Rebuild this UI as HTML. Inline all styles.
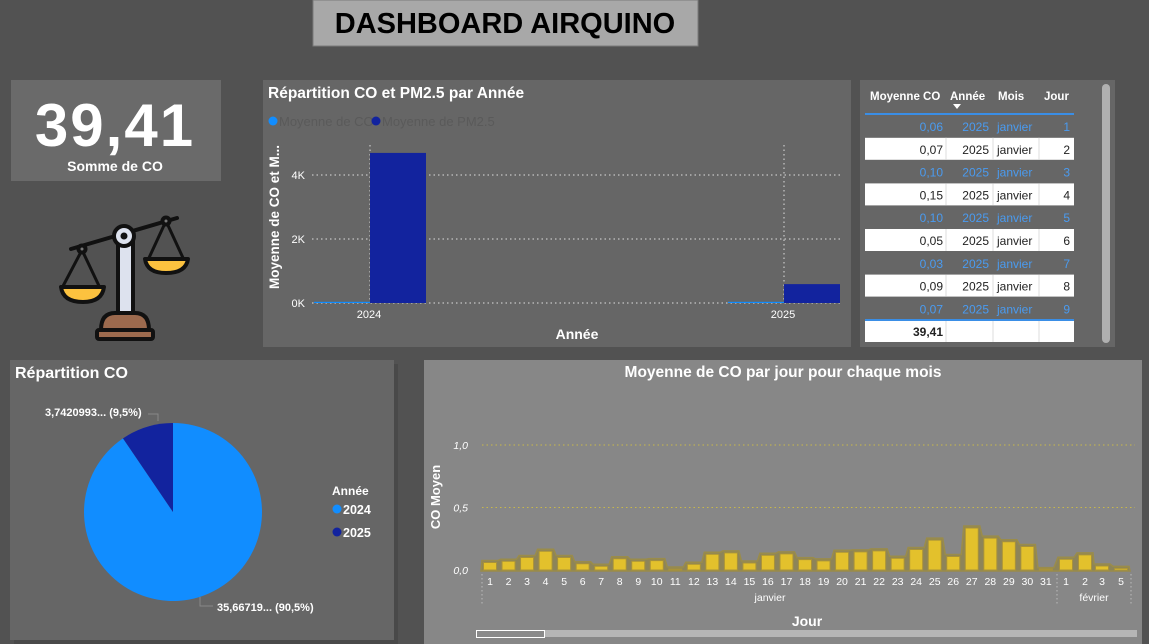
<!DOCTYPE html>
<html><head><meta charset="utf-8"><style>
html,body{margin:0;padding:0;background:#525252;}
svg{display:block;font-family:"Liberation Sans",sans-serif;}
</style></head><body>
<svg id="root" width="1149" height="644" viewBox="0 0 1149 644" xmlns="http://www.w3.org/2000/svg">
<rect x="0" y="0" width="1149" height="644" fill="#525252"/>
<g>
<rect x="313" y="0" width="385" height="46" fill="#a8a8a8" stroke="#7a7a7a"/>
<text x="505" y="33" text-anchor="middle" font-size="29" font-weight="bold" fill="#000">DASHBOARD AIRQUINO</text>
</g>
<g>
<rect x="11" y="80" width="210" height="101" fill="#6a6a6a"/>
<text x="115" y="146" text-anchor="middle" font-size="60" font-weight="bold" fill="#fff" letter-spacing="2">39,41</text>
<text x="115" y="171" text-anchor="middle" font-size="14" font-weight="bold" fill="#fff">Somme de CO</text>
</g>
<g stroke="#111" stroke-width="4" stroke-linejoin="round" stroke-linecap="round">
<line x1="71" y1="249" x2="177" y2="218"/>
<path d="M82 250 L62 288 M82 250 L100 288 M166 221 L148 260 M166 221 L184 260" fill="none" stroke-width="3"/>
<path d="M61 287 H104 Q102 302 83 302 Q63 302 61 287 Z" fill="#fcc23f"/>
<path d="M145 259 H188 Q186 273 166 273 Q147 273 145 259 Z" fill="#fcc23f"/>
<rect x="118" y="240" width="15" height="74" fill="#dde2ee"/>
<circle cx="124" cy="236" r="10" fill="#dde2ee"/>
<circle cx="124" cy="236" r="3" fill="#111" stroke-width="1"/>
<circle cx="82" cy="249" r="3.5" fill="#777"/>
<circle cx="166" cy="221" r="3.5" fill="#777"/>
<path d="M101 330 Q101 313 115 313 H135 Q149 313 149 330 Z" fill="#9c6a4e"/>
<rect x="97" y="330" width="56" height="9" rx="2" fill="#9c6a4e"/>
</g>

<g>
<rect x="263" y="80" width="588" height="267" fill="#666"/>
<text x="268" y="98" font-size="15.5" font-weight="bold" fill="#fff">Répartition CO et PM2.5 par Année</text>
<g>
<circle cx="273" cy="121" r="4.5" fill="#118dff"/><text x="279" y="126" font-size="13" fill="#5a5a5a">Moyenne de CO</text>
<circle cx="376" cy="121" r="4.5" fill="#12239e"/><text x="382" y="126" font-size="13" fill="#5a5a5a">Moyenne de PM2.5</text>
</g>
<g id="barG"></g>
<text transform="translate(279,217) rotate(-90)" text-anchor="middle" font-size="13.5" font-weight="bold" fill="#fff">Moyenne de CO et M...</text>
<text x="577" y="339" text-anchor="middle" font-size="14" font-weight="bold" fill="#fff">Année</text>
</g>

<g>
<rect x="860" y="80" width="255" height="267" fill="#666"/>
<g font-size="11.5" font-weight="bold" fill="#fff">
<text x="870" y="100">Moyenne CO</text>
<text x="950" y="100">Année</text>
<text x="998" y="100">Mois</text>
<text x="1044" y="100">Jour</text>
</g>
<path d="M953 104 L961 104 L957 109 Z" fill="#fff"/>
<line x1="865" y1="114" x2="1074" y2="114" stroke="#3a8ee6" stroke-width="2"/>
<g id="tableRows"></g>
<rect x="865" y="320" width="209" height="22" fill="#fff"/>
<line x1="865" y1="320" x2="1074" y2="320" stroke="#3a8ee6" stroke-width="2"/>
<g stroke="#ddd"><line x1="946" y1="321" x2="946" y2="342"/><line x1="993" y1="321" x2="993" y2="342"/><line x1="1039" y1="321" x2="1039" y2="342"/></g>
<text x="943" y="336" text-anchor="end" font-size="12" font-weight="bold" fill="#222">39,41</text>
<rect x="1102" y="84" width="8" height="259" rx="4" fill="#b0b0b0"/>
</g>

<g>
<rect x="14" y="364" width="384" height="280" fill="#404040" opacity="0.5"/>
<rect x="10" y="360" width="384" height="280" fill="#666"/>
<text x="15" y="378" font-size="16" font-weight="bold" fill="#fff">Répartition CO</text>
<g id="pieG"></g>
<text x="45" y="416" font-size="11" font-weight="bold" fill="#fff">3,7420993... (9,5%)</text>
<path d="M148 414 H158 V421" stroke="#888" fill="none"/>
<text x="217" y="611" font-size="11" font-weight="bold" fill="#fff">35,66719... (90,5%)</text>
<path d="M200 597 V606 H213" stroke="#888" fill="none"/>
<g>
<text x="332" y="495" font-size="12" font-weight="bold" fill="#fff">Année</text>
<circle cx="337" cy="509" r="4.5" fill="#118dff"/><text x="343" y="514" font-size="12.5" font-weight="bold" fill="#fff">2024</text>
<circle cx="337" cy="532" r="4.5" fill="#12239e"/><text x="343" y="537" font-size="12.5" font-weight="bold" fill="#fff">2025</text>
</g>
</g>

<g>
<rect x="424" y="360" width="718" height="284" fill="#878787"/>
<text x="783" y="377" text-anchor="middle" font-size="15.5" font-weight="bold" fill="#fff">Moyenne de CO par jour pour chaque mois</text>
<text transform="translate(440,497) rotate(-90)" text-anchor="middle" font-size="13" font-weight="bold" fill="#fff">CO Moyen</text>
<g id="dayG"></g>
<text x="807" y="626" text-anchor="middle" font-size="14" font-weight="bold" fill="#fff">Jour</text>
<rect x="476" y="630" width="661" height="7" fill="#b5b5b5"/>
<rect x="476.5" y="630.5" width="68" height="7" fill="#8a8a8a" stroke="#fff"/>
</g>
</svg>
<script>
var NS="http://www.w3.org/2000/svg";
function mk(tag,attrs,parent){var e=document.createElementNS(NS,tag);for(var k in attrs)e.setAttribute(k,attrs[k]);parent.appendChild(e);return e;}

// Bar chart data
var years=["2024","2025"];
var coMeans=[30,5];
var pmMeans=[4690,590];
var barTicks=[0,2000,4000];
var barTickLabels=["0K","2K","4K"];
// Table data
var tCO=["0,06","0,07","0,10","0,15","0,10","0,05","0,03","0,09","0,07"];
var tYear=["2025","2025","2025","2025","2025","2025","2025","2025","2025"];
var tMonth=["janvier","janvier","janvier","janvier","janvier","janvier","janvier","janvier","janvier"];
var tDay=["1","2","3","4","5","6","7","8","9"];
// Pie data
var pieYears=["2024","2025"];
var pieValues=[35.66719,3.7420993];
// Daily chart data
var dayLabels=["1","2","3","4","5","6","7","8","9","10","11","12","13","14","15","16","17","18","19","20","21","22","23","24","25","26","27","28","29","30","31","1","2","3","5"];
var dayMonths=["janvier","janvier","janvier","janvier","janvier","janvier","janvier","janvier","janvier","janvier","janvier","janvier","janvier","janvier","janvier","janvier","janvier","janvier","janvier","janvier","janvier","janvier","janvier","janvier","janvier","janvier","janvier","janvier","janvier","janvier","janvier","février","février","février","février"];
var dayValues=[0.06,0.07,0.10,0.15,0.10,0.05,0.03,0.09,0.07,0.075,0.008,0.046,0.126,0.137,0.056,0.118,0.129,0.083,0.073,0.142,0.145,0.153,0.094,0.164,0.239,0.108,0.336,0.255,0.226,0.188,0.003,0.086,0.121,0.032,0.013];
var dayTicks=[0,0.5,1.0];
var dayTickLabels=["0,0","0,5","1,0"];

// ---- bar chart
(function(){
var g=document.getElementById('barG');
function y(v){return 303-v*(128/4000);}
var catX=[370,784];
for(var i=0;i<barTicks.length;i++){
 var l=mk('line',{x1:312,x2:840,y1:y(barTicks[i]),y2:y(barTicks[i]),stroke:'#ddd','stroke-dasharray':'1.5 3'},g);
 
 
 var t=mk('text',{x:305,y:y(barTicks[i])+4,'text-anchor':'end','font-size':11,fill:'#fff'},g);t.textContent=barTickLabels[i];
 
 
}
for(var j=0;j<years.length;j++){
 var vl=mk('line',{x1:catX[j],x2:catX[j],y1:145,y2:303,stroke:'#ddd','stroke-dasharray':'1.5 3'},g);
 
 
 var h1=Math.max(1.2,303-y(coMeans[j]));
 var r1=mk('rect',{x:catX[j]-56,y:303-h1,width:56,height:h1,fill:'#118dff'},g);
 
 
 var r2=mk('rect',{x:catX[j],y:y(pmMeans[j]),width:56,height:303-y(pmMeans[j]),fill:'#12239e'},g);
 
 
 var t2=mk('text',{x:catX[j]-1,y:318,'text-anchor':'middle','font-size':11,fill:'#fff'},g);t2.textContent=years[j];
 
 
}
})();

// ---- table
(function(){
var g=document.getElementById('tableRows');
for(var i=0;i<tCO.length;i++){
 var top=115+i*22.8;var white=(i%2==1);
 var row=mk('g',{},g);
 
 
 var col=white?'#222':'#4a9bf0';
 if(white){mk('rect',{x:865,y:top,width:209,height:22,fill:'#fff'},row);
  [946,993,1039].forEach(function(x){mk('line',{x1:x,x2:x,y1:top,y2:top+22,stroke:'#ddd'},row);});}
 var ys=top+16;
 var a=mk('text',{x:943,y:ys,'text-anchor':'end','font-size':12,fill:col},row);a.textContent=tCO[i];
 var b=mk('text',{x:989,y:ys,'text-anchor':'end','font-size':12,fill:col},row);b.textContent=tYear[i];
 var c=mk('text',{x:997,y:ys,'font-size':12,fill:col},row);c.textContent=tMonth[i];
 var d=mk('text',{x:1070,y:ys,'text-anchor':'end','font-size':12,fill:col},row);d.textContent=tDay[i];
}
})();

// ---- pie
(function(){
var g=document.getElementById('pieG');
var cx=173,cy=512,r=89;var tot=pieValues.reduce(function(a,b){return a+b;},0);
var cols=['#118dff','#12239e'];
var start=0;
for(var i=0;i<pieValues.length;i++){
 var frac=pieValues[i]/tot;var a0=start*2*Math.PI,a1=(start+frac)*2*Math.PI;
 var x0=cx+r*Math.sin(a0),y0=cy-r*Math.cos(a0),x1=cx+r*Math.sin(a1),y1=cy-r*Math.cos(a1);
 var p=mk('path',{d:'M'+cx+' '+cy+' L'+x0+' '+y0+' A'+r+' '+r+' 0 '+(frac>0.5?1:0)+' 1 '+x1+' '+y1+' Z',fill:cols[i]},g);
 
 
 start+=frac;
}
})();

// ---- daily chart
(function(){
var g=document.getElementById('dayG');
function y(v){return 570-v*125;}
function x(i){return i<31?490+i*18.53:[1066,1085,1102,1121][i-31];}
for(var i=1;i<dayTicks.length;i++){
 var l=mk('line',{x1:482,x2:1135,y1:y(dayTicks[i]),y2:y(dayTicks[i]),stroke:'#c8b84a','stroke-dasharray':'1.5 3'},g);
 
 
}
for(var i=0;i<dayTicks.length;i++){
 var t=mk('text',{x:468,y:y(dayTicks[i])+4,'text-anchor':'end','font-size':10.5,'font-style':'italic',fill:'#fff'},g);t.textContent=dayTickLabels[i];
 
 
}
var pts='';
for(var i=0;i<dayValues.length;i++){pts+=(x(i)-8)+','+(y(dayValues[i])-2)+' '+(x(i)+8)+','+(y(dayValues[i])-2)+' ';}
var area=mk('polygon',{points:(x(0)-9)+',571 '+pts+(x(dayValues.length-1)+9)+',571',fill:'#8d8459',stroke:'#9a8c4a','stroke-width':1.5},g);


for(var i=0;i<dayValues.length;i++){
 var h=Math.max(1,570-y(dayValues[i]));
 var b=mk('rect',{x:x(i)-6.5,y:570-h,width:13,height:h,fill:'#e3c12c',stroke:'#a8923a','stroke-width':1},g);
 
 
 var t=mk('text',{x:x(i),y:585,'text-anchor':'middle','font-size':10.5,fill:'#fff'},g);t.textContent=dayLabels[i];
 
 
}
[482,1057,1131].forEach(function(sx){mk('line',{x1:sx,x2:sx,y1:574,y2:606,stroke:'#bbb','stroke-dasharray':'1.5 2.5'},g);});
var m1=mk('text',{x:770,y:601,'text-anchor':'middle','font-size':10.5,fill:'#fff'},g);m1.textContent=dayMonths[0];


var m2=mk('text',{x:1094,y:601,'text-anchor':'middle','font-size':10.5,fill:'#fff'},g);m2.textContent=dayMonths[31];


})();
</script>
</body></html>
